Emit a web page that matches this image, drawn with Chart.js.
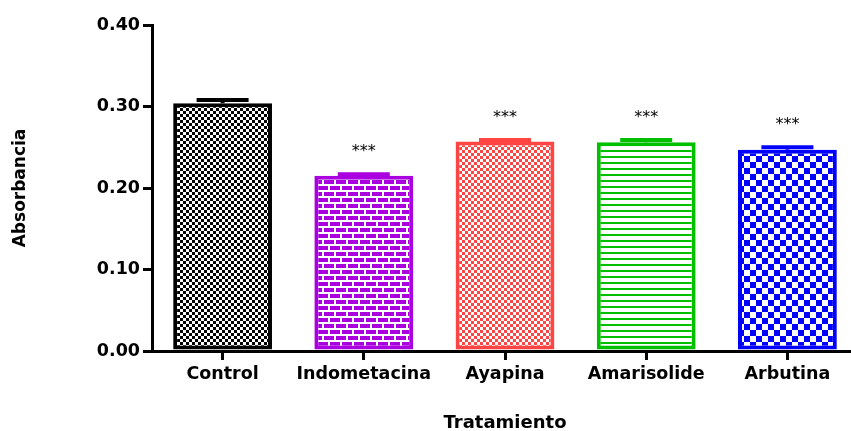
<!DOCTYPE html>
<html>
<head>
<meta charset="utf-8">
<script src="https://cdn.jsdelivr.net/npm/chart.js@4.4.1/dist/chart.umd.min.js"></script>
<style>
    html, body { margin: 0; padding: 0; background: #fff; overflow: hidden; }
    #wrap { width: 860px; height: 431px; }
</style>
</head>
<body>
<div id="wrap"><canvas id="absChart" width="860" height="431"></canvas></div>
<script>
const categories = ['Control', 'Indometacina', 'Ayapina', 'Amarisolide', 'Arbutina'];
const means = [0.304, 0.215, 0.257, 0.256, 0.247];
const errors = [0.004, 0.002, 0.002, 0.003, 0.003];
const significance = ['', '***', '***', '***', '***'];
const yTicks = [0.00, 0.10, 0.20, 0.30, 0.40];

const barColors = ['#000000', '#aa00e0', '#ff4444', '#00c000', '#0000ff'];

// small tiles for the fill patterns
function tile(w, h, draw) {
    const c = document.createElement('canvas');
    c.width = w;
    c.height = h;
    const g = c.getContext('2d');
    g.fillStyle = '#ffffff';
    g.fillRect(0, 0, w, h);
    draw(g);
    return g.createPattern(c, 'repeat');
}

function checker(color, size) {
    return tile(size * 2, size * 2, g => {
        g.fillStyle = color;
        g.fillRect(0, 0, size, size);
        g.fillRect(size, size, size, size);
    });
}

function bricks(color) {
    return tile(24, 12, g => {
        g.fillStyle = color;
        g.fillRect(0, 0, 10, 4);
        g.fillRect(12, 0, 10, 4);
        g.fillRect(-6, 6, 10, 4);
        g.fillRect(6, 6, 10, 4);
        g.fillRect(18, 6, 10, 4);
    });
}

function hlines(color) {
    return tile(6, 6, g => {
        g.fillStyle = color;
        g.fillRect(0, 0, 6, 2);
    });
}

const fills = [
    checker(barColors[0], 3),
    bricks(barColors[1]),
    checker(barColors[2], 3),
    hlines(barColors[3]),
    checker(barColors[4], 6)
];

const errorBars = {
    id: 'errorBars',
    afterDatasetsDraw(chart) {
        const ctx = chart.ctx;
        const meta = chart.getDatasetMeta(0);
        const y = chart.scales.y;
        ctx.save();
        meta.data.forEach((bar, i) => {
            const top = y.getPixelForValue(means[i] + errors[i]);
            ctx.strokeStyle = barColors[i];
            ctx.lineWidth = 4;
            ctx.beginPath();
            ctx.moveTo(bar.x, bar.y);
            ctx.lineTo(bar.x, top);
            ctx.moveTo(bar.x - 26, top);
            ctx.lineTo(bar.x + 26, top);
            ctx.stroke();
            if (significance[i]) {
                ctx.fillStyle = '#000';
                ctx.font = '16px "DejaVu Sans", sans-serif';
                ctx.textAlign = 'center';
                ctx.textBaseline = 'middle';
                ctx.fillText(significance[i], bar.x, top - 22);
            }
        });
        ctx.restore();
    }
};

const fam = '"DejaVu Sans", "Liberation Sans", sans-serif';
const tickFont = { family: fam, size: 17.5, weight: 'bold' };

new Chart(document.getElementById('absChart'), {
    type: 'bar',
    data: {
        labels: categories,
        datasets: [{
            data: means,
            backgroundColor: fills,
            borderColor: barColors,
            borderWidth: 4,
            borderSkipped: false,
            barPercentage: 0.7,
            categoryPercentage: 1.0
        }]
    },
    options: {
        responsive: false,
        animation: false,
        events: [],
        plugins: {
            legend: { display: false },
            tooltip: { enabled: false }
        },
        layout: {
            padding: { top: 25, right: 2, bottom: 0, left: 0 }
        },
        scales: {
            x: {
                afterFit: s => { s.height = 80; },
                grid: {
                    offset: false,
                    drawOnChartArea: false,
                    color: '#000',
                    lineWidth: 3,
                    tickLength: 9
                },
                border: { color: '#000', width: 3 },
                ticks: { color: '#000', font: tickFont, padding: 4, maxRotation: 0 },
                title: {
                    display: true,
                    text: 'Tratamiento',
                    color: '#000',
                    font: { family: fam, size: 18, weight: 'bold' },
                    padding: { top: 0, bottom: -3 }
                }
            },
            y: {
                min: 0,
                max: 0.4,
                afterFit: s => { s.width = 152; },
                afterBuildTicks: s => { s.ticks = yTicks.map(v => ({ value: v })); },
                grid: {
                    drawOnChartArea: false,
                    color: '#000',
                    lineWidth: 3,
                    tickLength: 9
                },
                border: { color: '#000', width: 3 },
                ticks: {
                    color: '#000',
                    font: tickFont,
                    padding: 3,
                    callback: v => v.toFixed(2)
                },
                title: {
                    display: true,
                    text: 'Absorbancia',
                    color: '#000',
                    font: { family: fam, size: 17, weight: 'bold' },
                    padding: { top: 10, bottom: 0 }
                }
            }
        }
    },
    plugins: [errorBars]
});
</script>
</body>
</html>
